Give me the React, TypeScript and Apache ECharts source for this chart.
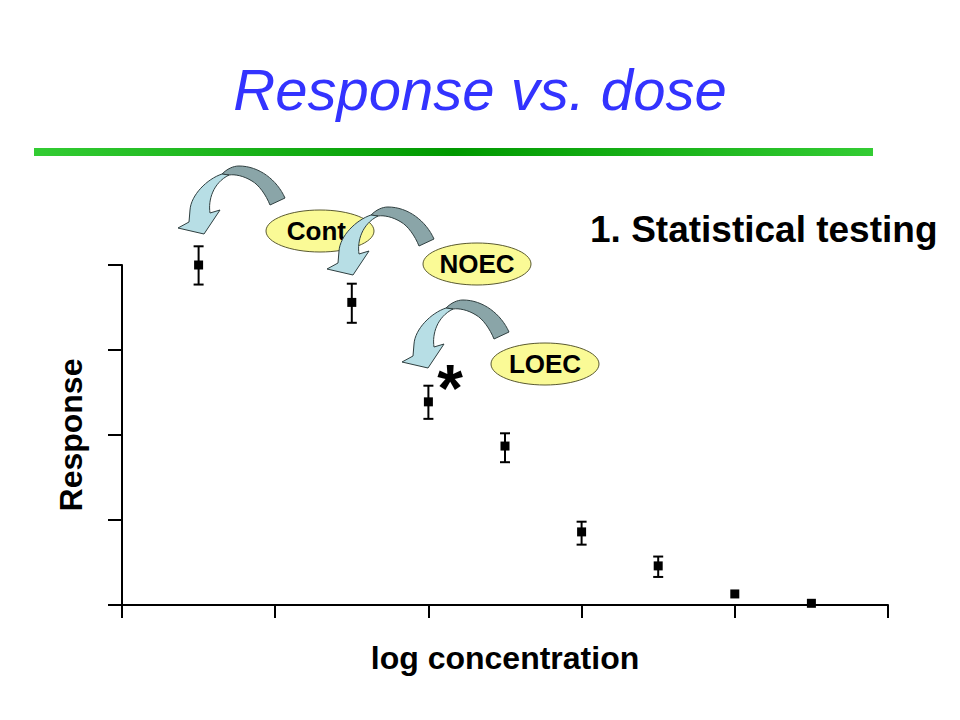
import React, { useEffect, useRef } from "react";
import * as echarts from "echarts";

// ---- data ----
const xValues = [0.5, 1.5, 2, 2.5, 3, 3.5, 4, 4.5];
const responseMeans = [4.0, 3.56, 2.39, 1.87, 0.86, 0.46, 0.13, 0.02];
const errorLow: (number | null)[] = [3.77, 3.32, 2.19, 1.68, 0.71, 0.33, null, null];
const errorHigh: (number | null)[] = [4.22, 3.78, 2.58, 2.02, 0.98, 0.57, null, null];
const xAxisRange = [0, 5];
const yAxisRange = [0, 4];
const titleText = "Response vs. dose";
const subtitleText = "1. Statistical testing";
const xAxisName = "log concentration";
const yAxisName = "Response";
const calloutLabels = ["Cont.", "NOEC", "LOEC"];
const significanceMark = "*";

const FONT = "'Liberation Sans', Arial, sans-serif";

const ARROW_DARK =
  "M45 9 C50 4 56 1 62 1 C82 1 100 15 108 33 L93 40 C89 30 82 20 75 16 C67 11 58 9 52 10 Z";
const ARROW_LIGHT =
  "M45 9 C30 14 14 30 13 45 L12 57 L1 63 L27 69 L43 45 L33 48 C31 35 36 18 52 10 Z";

let registered = false;
function registerShapes() {
  if (registered) return;
  echarts.graphic.registerShape("arrowDark", echarts.graphic.extendPath(ARROW_DARK, {}) as any);
  echarts.graphic.registerShape("arrowLight", echarts.graphic.extendPath(ARROW_LIGHT, {}) as any);
  registered = true;
}

function curvedArrow(x: number, y: number, z: number) {
  return [
    {
      type: "arrowDark",
      x,
      y,
      z,
      style: { fill: "#8AA5A8", stroke: "#2F3F40", lineWidth: 1 },
    },
    {
      type: "arrowLight",
      x,
      y,
      z: z + 1,
      style: { fill: "#B7DEE5", stroke: "#2F3F40", lineWidth: 1 },
    },
  ];
}

function callout(label: string, cx: number, cy: number, z: number) {
  return [
    {
      type: "ellipse",
      z,
      shape: { cx, cy, rx: 54, ry: 21 },
      style: { fill: "#FAFA96", stroke: "#5A5A30", lineWidth: 1 },
    },
    {
      type: "text",
      z: z + 1,
      x: cx,
      y: cy,
      style: {
        text: label,
        fill: "#000",
        font: `bold 26px ${FONT}`,
        align: "center",
        verticalAlign: "middle",
      },
    },
  ];
}

export default function App() {
  const ref = useRef<HTMLDivElement>(null);

  useEffect(() => {
    document.body.style.margin = "0";
    registerShapes();
    const chart = echarts.init(ref.current!, null, { renderer: "svg" });

    const scatterData = xValues.map((x, i) => [x, responseMeans[i]]);
    const errorData = xValues
      .map((x, i) => (errorLow[i] == null ? null : [x, errorLow[i], errorHigh[i]]))
      .filter((d) => d != null);

    const option: any = {
      animation: false,
      backgroundColor: "#ffffff",
      title: {
        text: titleText,
        left: "center",
        top: 60,
        padding: 0,
        textStyle: {
          fontFamily: FONT,
          fontSize: 58,
          fontStyle: "italic",
          fontWeight: "normal",
          color: "#3333FF",
        },
      },
      grid: { left: 122, right: 72, top: 265, bottom: 115 },
      xAxis: {
        type: "value",
        min: xAxisRange[0],
        max: xAxisRange[1],
        interval: 1,
        name: xAxisName,
        nameLocation: "middle",
        nameGap: 37,
        nameTextStyle: { fontFamily: FONT, fontSize: 32, fontWeight: "bold", color: "#000" },
        axisLine: { show: true, onZero: false, lineStyle: { color: "#000", width: 2 } },
        axisTick: { show: true, length: 13, lineStyle: { color: "#000", width: 2 } },
        axisLabel: { show: false },
        splitLine: { show: false },
      },
      yAxis: {
        type: "value",
        min: yAxisRange[0],
        max: yAxisRange[1],
        interval: 1,
        name: yAxisName,
        nameLocation: "middle",
        nameGap: 35,
        nameRotate: 90,
        nameTextStyle: { fontFamily: FONT, fontSize: 32, fontWeight: "bold", color: "#000" },
        axisLine: { show: true, onZero: false, lineStyle: { color: "#000", width: 2 } },
        axisTick: { show: true, length: 14, lineStyle: { color: "#000", width: 2 } },
        axisLabel: { show: false },
        splitLine: { show: false },
      },
      series: [
        {
          type: "custom",
          name: "error",
          data: errorData,
          encode: { x: 0, y: [1, 2] },
          z: 2,
          renderItem: (_params: any, api: any) => {
            const x = api.value(0);
            const lo = api.coord([x, api.value(1)]);
            const hi = api.coord([x, api.value(2)]);
            const hw = 5;
            const st = { stroke: "#000", lineWidth: 2 };
            return {
              type: "group",
              children: [
                { type: "line", shape: { x1: lo[0], y1: lo[1], x2: hi[0], y2: hi[1] }, style: st },
                { type: "line", shape: { x1: hi[0] - hw, y1: hi[1], x2: hi[0] + hw, y2: hi[1] }, style: st },
                { type: "line", shape: { x1: lo[0] - hw, y1: lo[1], x2: lo[0] + hw, y2: lo[1] }, style: st },
              ],
            };
          },
        },
        {
          type: "scatter",
          name: "response",
          data: scatterData,
          symbol: "rect",
          symbolSize: 9,
          z: 3,
          itemStyle: { color: "#000", opacity: 1 },
        },
      ],
      graphic: [
        {
          type: "rect",
          shape: { x: 34, y: 148, width: 839, height: 8 },
          style: {
            fill: {
              type: "linear",
              x: 0,
              y: 0,
              x2: 1,
              y2: 0,
              colorStops: [
                { offset: 0, color: "#33CC33" },
                { offset: 0.5, color: "#009900" },
                { offset: 1, color: "#33CC33" },
              ],
            },
          },
        },
        {
          type: "text",
          x: 590,
          y: 229,
          style: {
            text: subtitleText,
            fill: "#000",
            font: `bold 37px ${FONT}`,
            align: "left",
            verticalAlign: "middle",
          },
        },
        ...curvedArrow(177, 165, 10),
        ...callout(calloutLabels[0], 320, 231, 12),
        ...curvedArrow(326, 206, 14),
        ...callout(calloutLabels[1], 477, 264, 16),
        ...curvedArrow(401, 299, 18),
        ...callout(calloutLabels[2], 545, 364, 20),
        {
          type: "text",
          x: 450,
          y: 388,
          z: 22,
          style: {
            text: significanceMark,
            fill: "#000",
            font: `bold 66px ${FONT}`,
            align: "center",
            verticalAlign: "middle",
          },
        },
      ],
    };

    chart.setOption(option);
    return () => chart.dispose();
  }, []);

  return <div ref={ref} style={{ width: 960, height: 720 }} />;
}
